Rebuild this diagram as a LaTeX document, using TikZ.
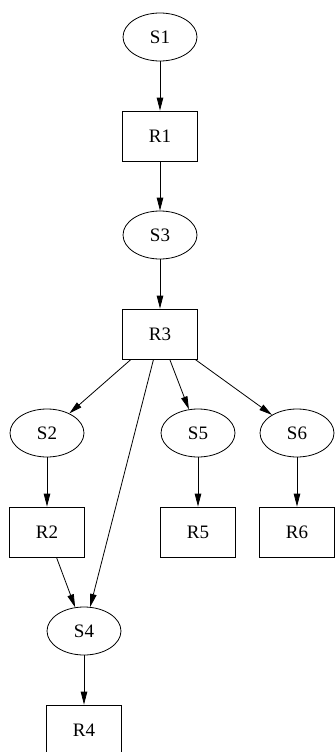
\documentclass[tikz,border=0pt]{standalone}
\usepackage{fontspec}
\setmainfont{Liberation Serif}
\usetikzlibrary{arrows.meta, positioning, shapes.geometric}

\begin{document}
\begin{tikzpicture}[x=1pt,y=-1pt,
    state/.style={draw, ellipse, line width=0.8pt, minimum width=74pt, minimum height=48pt, inner sep=0pt},
    react/.style={draw, rectangle, line width=0.8pt, minimum width=75pt, minimum height=50pt, inner sep=0pt},
    edge/.style={line width=0.8pt, -{Triangle[length=13pt,width=6.5pt]}},
    font=\fontsize{19}{23}\selectfont]
\useasboundingbox (0,0) rectangle (335,752);
%main chain
\node[state] (S1) at (160,37) {S1};
\node[react] (R1) at (160,136) {R1};
\node[state] (S3) at (160,235) {S3};
\node[react] (R3) at (160,334) {R3};
%branches under R3
\node[state] (S2) at (47,433) {S2};
\node[state] (S5) at (198,433) {S5};
\node[state] (S6) at (297,433) {S6};
\node[react] (R2) at (47,532) {R2};
\node[react] (R5) at (198,532) {R5};
\node[react] (R6) at (297,532) {R6};
\node[state] (S4) at (84,631) {S4};
\node[react] (R4) at (84,730) {R4};
%edges
\draw[edge] (S1) -- (R1);
\draw[edge] (R1) -- (S3);
\draw[edge] (S3) -- (R3);
\draw[edge] (R3) -- (S2);
\draw[edge] (R3) -- (S4);
\draw[edge] (R3) -- (S5);
\draw[edge] (R3) -- (S6);
\draw[edge] (S2) -- (R2);
\draw[edge] (S5) -- (R5);
\draw[edge] (S6) -- (R6);
\draw[edge] (R2) -- (S4);
\draw[edge] (S4) -- (R4);
\end{tikzpicture}
\end{document}
